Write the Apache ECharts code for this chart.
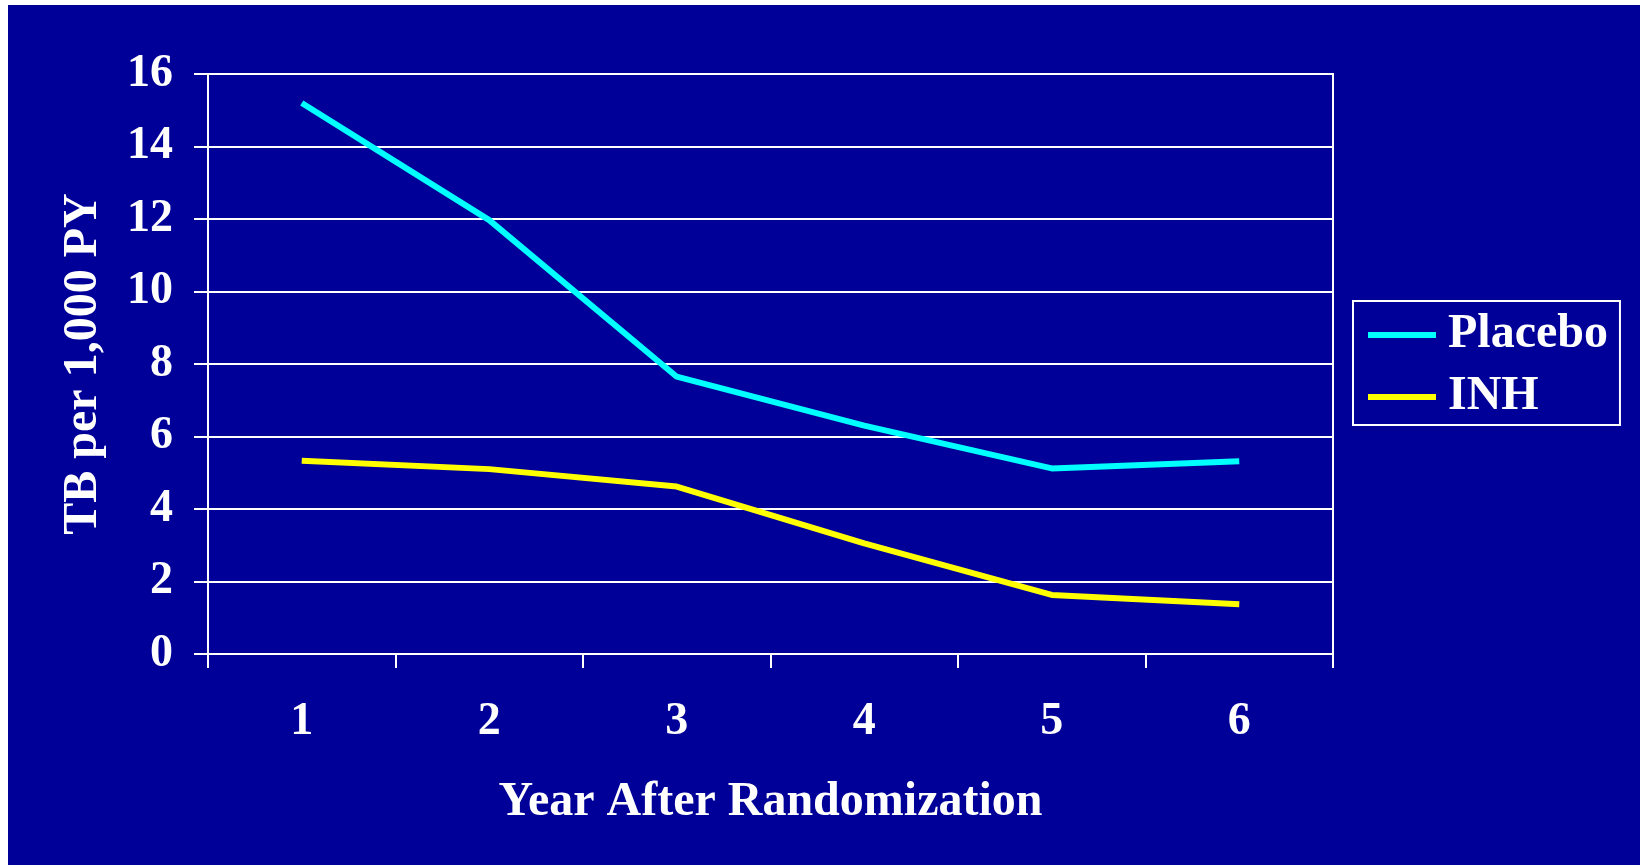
<!DOCTYPE html>
<html>
<head>
<meta charset="utf-8">
<script src="https://cdn.jsdelivr.net/npm/echarts@6/dist/echarts.min.js"></script>
<style>
html,body{margin:0;padding:0;background:#fff;width:1640px;height:865px;overflow:hidden;}
#c{position:absolute;left:8px;top:5px;width:1632px;height:860px;background:#000099;}
</style>
</head>
<body>
<div id="c"></div>
<script>
const years = ['1', '2', '3', '4', '5', '6'];
const placebo = [15.2, 11.97, 7.65, 6.3, 5.12, 5.32];
const inh = [5.33, 5.1, 4.62, 3.05, 1.63, 1.37];
const yTicks = { min: 0, max: 16, interval: 2 };
const xTitle = 'Year After Randomization';
const yTitle = 'TB per 1,000 PY';

const FONT = '"Liberation Serif", "Times New Roman", serif';
const chart = echarts.init(document.getElementById('c'), null, { renderer: 'canvas' });
chart.setOption({
  backgroundColor: '#000099',
  animation: false,
  grid: { left: 200, top: 69, right: 307, bottom: 211, show: true, borderColor: '#ffffff', borderWidth: 2, containLabel: false },
  legend: {
    orient: 'vertical', left: 1345, top: 296,
    padding: [10, 12, 4, 15], itemGap: 14,
    icon: 'rect', itemWidth: 68, itemHeight: 6,
    borderColor: '#ffffff', borderWidth: 2,
    textStyle: { color: '#ffffff', fontFamily: FONT, fontWeight: 'bold', fontSize: 48, padding: [0, 0, 0, 7] },
    data: ['Placebo', 'INH']
  },
  xAxis: {
    type: 'category', data: years, boundaryGap: true,
    name: xTitle, nameLocation: 'middle', nameGap: 125,
    nameTextStyle: { color: '#ffffff', fontFamily: FONT, fontWeight: 'bold', fontSize: 48 },
    axisLine: { lineStyle: { color: '#ffffff', width: 2 } },
    axisTick: { show: true, length: 14, lineStyle: { color: '#ffffff', width: 2 } },
    axisLabel: { color: '#ffffff', fontFamily: FONT, fontWeight: 'bold', fontSize: 46, margin: 45 },
    splitLine: { show: false }
  },
  yAxis: {
    type: 'value', min: yTicks.min, max: yTicks.max, interval: yTicks.interval,
    name: yTitle, nameLocation: 'middle', nameGap: 100, nameRotate: 90,
    nameTextStyle: { color: '#ffffff', fontFamily: FONT, fontWeight: 'bold', fontSize: 48 },
    axisLine: { show: true, lineStyle: { color: '#ffffff', width: 2 } },
    axisTick: { show: true, length: 14, lineStyle: { color: '#ffffff', width: 2 } },
    axisLabel: { color: '#ffffff', fontFamily: FONT, fontWeight: 'bold', fontSize: 46, margin: 35 },
    splitLine: { show: true, lineStyle: { color: '#ffffff', width: 2 } }
  },
  series: [
    { name: 'Placebo', type: 'line', data: placebo, symbol: 'none', lineStyle: { color: '#00ffff', width: 6 }, itemStyle: { color: '#00ffff' } },
    { name: 'INH', type: 'line', data: inh, symbol: 'none', lineStyle: { color: '#ffff00', width: 6 }, itemStyle: { color: '#ffff00' } }
  ]
});
</script>
</body>
</html>
